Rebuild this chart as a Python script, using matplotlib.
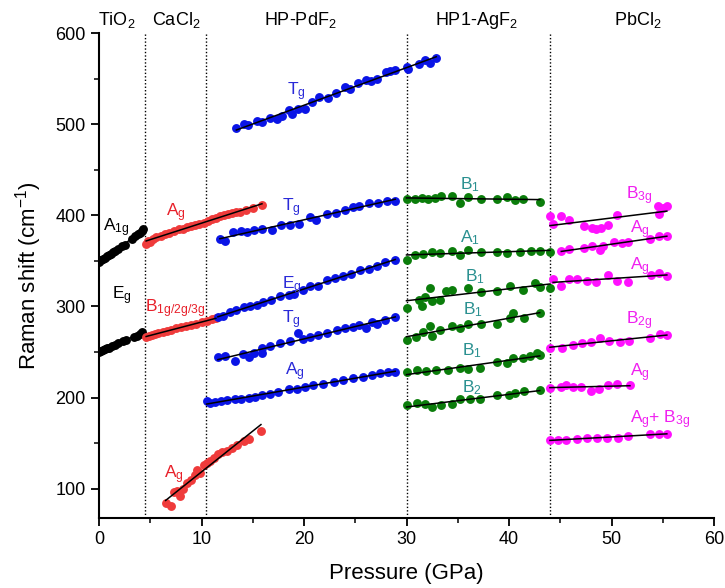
import numpy as np
import matplotlib
matplotlib.use("Agg")
import matplotlib.pyplot as plt
import matplotlib.transforms as mtransforms

plt.rcParams["font.family"] = ["Liberation Sans", "DejaVu Sans"]
plt.rcParams["mathtext.fontset"] = "custom"
plt.rcParams["mathtext.rm"] = "Liberation Sans"
plt.rcParams["mathtext.it"] = "Liberation Sans"
plt.rcParams["mathtext.bf"] = "Liberation Sans:bold"

# ---------------- data: pressure (GPa) and Raman shift (cm^-1) ----------------
# TiO2 (rutile)
tio2_a1g_p = [0.0, 0.2, 0.4, 0.6, 0.8, 1.0, 1.2, 1.4, 1.6, 1.9, 2.2, 2.5, 3.2, 3.5, 3.8, 4.0, 4.2, 4.3]
tio2_a1g_w = [349, 351, 352, 353, 355, 357, 358, 360, 361, 363, 366, 368, 374, 377, 379, 381, 383, 385]
tio2_eg_p = [0.0, 0.2, 0.4, 0.6, 0.8, 1.0, 1.3, 1.6, 1.9, 2.3, 2.6, 3.4, 3.7, 4.0, 4.2]
tio2_eg_w = [250, 251, 252, 253, 254, 255, 257, 258, 260, 262, 263, 267, 268, 270, 272]

# CaCl2-type
cacl2_ag_hi_p = [4.6, 4.8, 5.0, 5.3, 5.6, 6.0, 6.4, 6.8, 7.3, 7.8, 8.2, 8.6, 9.0, 9.4, 9.8, 10.2,
                 10.6, 11.0, 11.4, 11.8, 12.2, 12.6, 13.0, 13.4, 13.8, 14.3, 15.0, 15.9]
cacl2_ag_hi_w = [369, 372, 371, 374, 376, 377, 379, 381, 383, 385, 385, 387, 388, 389, 391, 392,
                 394, 396, 397, 399, 400, 401, 403, 404, 404, 406, 408, 411]
cacl2_b_p = [4.6, 4.9, 5.2, 5.5, 5.8, 6.2, 6.6, 7.0, 7.5, 8.0, 8.5, 9.0, 9.5, 10.0, 10.5, 11.0, 11.4]
cacl2_b_w = [266, 268, 269, 270, 271, 272, 273, 274, 276, 277, 279, 280, 281, 283, 284, 286, 287]
cacl2_ag_lo_p = [6.5, 7.0, 7.3, 7.6, 7.9, 8.2, 8.6, 9.0, 9.4, 9.6, 9.9, 10.2, 10.5, 10.8,
                 11.2, 11.6, 12.0, 12.5, 13.0, 13.5, 14.1, 14.6, 15.8]
cacl2_ag_lo_w = [85, 81, 96, 98, 92, 100, 106, 110, 115, 121, 117, 126, 128, 131,
                 134, 138, 140, 142, 145, 148, 153, 155, 163]

# HP-PdF2-type
pdf2_tg1_p = [13.4, 14.1, 14.5, 15.4, 15.9, 16.7, 17.4, 17.9, 18.5, 18.8, 19.4, 20.1, 20.8, 21.5,
              22.3, 23.1, 24.0, 24.5, 25.3, 26.0, 26.5, 27.1, 28.0, 28.4, 28.9, 30.0, 30.1, 31.2,
              31.8, 32.3, 32.9]
pdf2_tg1_w = [496, 500, 499, 504, 502, 507, 506, 509, 515, 511, 517, 517, 524, 530,
              529, 534, 541, 539, 545, 548, 547, 549, 557, 558, 559, 563, 561, 566,
              570, 567, 573]
pdf2_tg2_p = [11.8, 12.3, 13.1, 13.9, 14.4, 15.1, 15.9, 16.9, 17.8, 18.6, 19.5, 20.6, 21.2, 22.2,
              23.1, 24.0, 24.8, 25.4, 26.3, 27.2, 28.1, 28.9]
pdf2_tg2_w = [374, 372, 382, 383, 382, 384, 385, 384, 389, 389, 390, 398, 395, 402,
              403, 406, 409, 410, 413, 413, 416, 416]
pdf2_eg_p = [11.6, 12.1, 12.8, 13.4, 14.1, 14.7, 15.4, 16.0, 16.8, 17.7, 18.5, 19.0, 19.9, 20.6,
             21.4, 22.2, 23.0, 23.8, 24.6, 25.5, 26.3, 27.1, 27.9, 28.9]
pdf2_eg_w = [288, 290, 294, 296, 299, 300, 302, 305, 307, 311, 313, 314, 318, 322,
             323, 329, 331, 334, 336, 340, 341, 344, 349, 351]
pdf2_tg3_p = [11.6, 12.3, 13.3, 14.0, 14.6, 15.1, 15.9, 15.9, 16.7, 17.7, 18.6, 19.4, 19.9, 20.6,
              21.4, 22.2, 23.2, 24.0, 24.8, 25.4, 26.0, 26.6, 27.1, 27.9, 28.9]
pdf2_tg3_w = [245, 246, 240, 248, 245, 249, 249, 255, 257, 260, 262, 271, 264, 267,
              269, 271, 274, 276, 278, 280, 276, 283, 281, 285, 289]
pdf2_ag_p = [10.5, 10.8, 11.3, 11.9, 12.5, 13.3, 13.9, 14.6, 15.2, 15.9, 16.7, 17.5, 18.5, 19.3,
             20.1, 20.9, 21.9, 22.9, 23.8, 24.8, 25.8, 26.6, 27.4, 28.2, 28.9]
pdf2_ag_w = [196, 194, 195, 196, 197, 198, 198, 200, 201, 203, 204, 206, 209, 210,
             212, 214, 215, 217, 219, 222, 223, 225, 227, 228, 228]

# HP1-AgF2-type
agf2_b1a_p = [30.0, 30.8, 31.5, 32.1, 32.8, 33.4, 34.4, 35.2, 36.0, 37.3, 38.8, 39.8, 40.6, 41.4, 43.0]
agf2_b1a_w = [418, 418, 419, 418, 419, 421, 421, 414, 420, 418, 418, 420, 417, 418, 415]
agf2_a1_p = [30.0, 30.8, 31.6, 32.5, 33.3, 34.4, 35.2, 36.0, 37.3, 38.8, 39.8, 41.1, 42.1, 43.0, 44.0]
agf2_a1_w = [351, 356, 358, 360, 359, 361, 356, 362, 360, 360, 359, 360, 361, 361, 360]
agf2_b1b_p = [30.0, 31.2, 31.5, 31.8, 32.3, 32.5, 33.3, 33.9, 34.4, 36.0, 37.3, 38.8, 40.1, 41.4,
              42.5, 43.0, 44.0]
agf2_b1b_w = [298, 307, 301, 310, 320, 306, 307, 317, 318, 320, 316, 317, 322, 318,
              326, 321, 320]
agf2_b1c_p = [30.0, 30.9, 31.6, 32.3, 32.5, 33.3, 34.4, 35.2, 36.0, 37.3, 38.8, 40.1, 40.4, 41.5, 43.0]
agf2_b1c_w = [263, 266, 272, 279, 268, 274, 279, 276, 281, 281, 281, 287, 293, 287, 293]
agf2_b1d_p = [30.0, 31.0, 31.9, 32.9, 34.0, 35.2, 36.0, 37.2, 38.8, 39.8, 40.4, 41.4, 42.0, 42.7, 43.0]
agf2_b1d_w = [228, 230, 229, 230, 230, 232, 231, 232, 239, 238, 243, 243, 246, 249, 247]
agf2_b2_p = [30.0, 31.0, 31.8, 32.5, 33.4, 34.4, 35.2, 36.2, 37.2, 38.8, 40.0, 40.6, 41.5, 43.0]
agf2_b2_w = [192, 194, 193, 190, 192, 193, 198, 199, 198, 203, 203, 205, 207, 208]

# PbCl2-type
pbcl2_b3g_p = [44.0, 44.3, 45.1, 45.9, 47.3, 48.1, 48.5, 49.0, 49.7, 50.5, 54.5, 54.6, 55.0, 55.4]
pbcl2_b3g_w = [399, 391, 399, 395, 388, 386, 385, 386, 389, 400, 410, 402, 408, 410]
pbcl2_ag1_p = [45.1, 45.9, 47.3, 48.1, 48.9, 49.2, 50.2, 51.0, 51.6, 53.8, 54.6, 55.4]
pbcl2_ag1_w = [361, 363, 364, 366, 362, 366, 371, 370, 371, 374, 377, 377]
pbcl2_ag2_p = [44.3, 45.1, 45.9, 46.6, 47.6, 48.5, 49.7, 50.5, 51.6, 53.9, 54.6, 55.4]
pbcl2_ag2_w = [330, 322, 330, 330, 328, 327, 335, 328, 327, 335, 337, 334]
pbcl2_b2g_p = [44.0, 45.2, 46.2, 47.1, 48.0, 48.9, 49.8, 50.8, 51.7, 53.8, 54.7, 55.4]
pbcl2_b2g_w = [255, 255, 258, 260, 261, 265, 262, 261, 262, 265, 270, 269]
pbcl2_ag3_p = [44.0, 45.1, 45.6, 46.2, 47.0, 48.0, 48.8, 49.7, 50.5, 51.8]
pbcl2_ag3_w = [211, 212, 214, 212, 212, 207, 209, 214, 215, 214]
pbcl2_agb_p = [44.0, 44.8, 45.6, 46.6, 47.6, 48.6, 49.6, 50.6, 51.6, 53.8, 54.6, 55.4]
pbcl2_agb_w = [153.5, 154, 154, 155, 155.3, 156, 156, 156, 158, 160, 160, 160.5]

# phase boundaries (GPa) and phase names
boundaries = [4.5, 10.4, 30.0, 44.0]
phase_names = ["TiO$_2$", "CaCl$_2$", "HP-PdF$_2$", "HP1-AgF$_2$", "PbCl$_2$"]
phase_centres = [1.7, 7.5, 19.6, 36.8, 52.6]

BLACK, RED, BLUE, GREEN, MAGENTA = "#000000", "#ef3b3b", "#0a14e6", "#0b7d0b", "#ff10ff"
LBL = {BLACK: "#000000", RED: "#e8202a", BLUE: "#2a2ad8", GREEN: "#2a9090", MAGENTA: "#f020f0"}

# (pressures, shifts, colour, label, label x, label y)
series = [
    (tio2_a1g_p, tio2_a1g_w, BLACK, "A$_{1g}$", 1.7, 386),
    (tio2_eg_p, tio2_eg_w, BLACK, "E$_g$", 2.2, 312),
    (cacl2_ag_hi_p, cacl2_ag_hi_w, RED, "A$_g$", 7.5, 403),
    (cacl2_b_p, cacl2_b_w, RED, "B$_{1g/2g/3g}$", 7.4, 298),
    (cacl2_ag_lo_p, cacl2_ag_lo_w, RED, "A$_g$", 7.3, 115),
    (pdf2_tg1_p, pdf2_tg1_w, BLUE, "T$_g$", 19.3, 536),
    (pdf2_tg2_p, pdf2_tg2_w, BLUE, "T$_g$", 18.8, 408),
    (pdf2_eg_p, pdf2_eg_w, BLUE, "E$_g$", 18.8, 323),
    (pdf2_tg3_p, pdf2_tg3_w, BLUE, "T$_g$", 18.8, 285),
    (pdf2_ag_p, pdf2_ag_w, BLUE, "A$_g$", 19.1, 229),
    (agf2_b1a_p, agf2_b1a_w, GREEN, "B$_1$", 36.2, 434),
    (agf2_a1_p, agf2_a1_w, GREEN, "A$_1$", 36.2, 375),
    (agf2_b1b_p, agf2_b1b_w, GREEN, "B$_1$", 36.7, 333),
    (agf2_b1c_p, agf2_b1c_w, GREEN, "B$_1$", 36.5, 297),
    (agf2_b1d_p, agf2_b1d_w, GREEN, "B$_1$", 36.4, 252),
    (agf2_b2_p, agf2_b2_w, GREEN, "B$_2$", 36.4, 211),
    (pbcl2_b3g_p, pbcl2_b3g_w, MAGENTA, "B$_{3g}$", 52.7, 421),
    (pbcl2_ag1_p, pbcl2_ag1_w, MAGENTA, "A$_g$", 52.8, 384),
    (pbcl2_ag2_p, pbcl2_ag2_w, MAGENTA, "A$_g$", 52.8, 344),
    (pbcl2_b2g_p, pbcl2_b2g_w, MAGENTA, "B$_{2g}$", 52.7, 284),
    (pbcl2_ag3_p, pbcl2_ag3_w, MAGENTA, "A$_g$", 52.8, 227),
    (pbcl2_agb_p, pbcl2_agb_w, MAGENTA, "A$_g$+ B$_{3g}$", 54.8, 176),
]

fig = plt.figure(figsize=(7.25, 5.88), dpi=100)
ax = fig.add_axes([99 / 725, 70 / 588, 615 / 725, 485 / 588])

for b in boundaries:
    ax.axvline(b, color="black", linestyle=(0, (1, 1.5)), linewidth=1.0, zorder=1)

for p, w, col, lab, lx, ly in series:
    p = np.asarray(p, float)
    w = np.asarray(w, float)
    ax.plot(p, w, "o", color=col, markersize=6.4, markeredgewidth=0, zorder=2)
    k, c = np.polyfit(p, w, 1)
    xs = np.array([p.min(), p.max()])
    ax.plot(xs, k * xs + c, color="black", linewidth=1.1, zorder=3)
    ax.text(lx, ly, lab, color=LBL[col], fontsize=12.5, ha="center", va="center", zorder=4)

trans = mtransforms.blended_transform_factory(ax.transData, ax.transAxes)
for name, xc in zip(phase_names, phase_centres):
    ax.text(xc, 1.026, name, transform=trans, ha="center", va="center", fontsize=13)

ax.set_xlim(0, 60)
ax.set_ylim(68, 600)
ax.set_xticks(np.arange(0, 61, 10))
ax.set_xticks(np.arange(0, 61, 5), minor=True)
ax.set_yticks(np.arange(100, 601, 100))
ax.set_yticks(np.arange(100, 601, 50), minor=True)
ax.spines["top"].set_visible(False)
ax.spines["right"].set_visible(False)
for s in ("left", "bottom"):
    ax.spines[s].set_linewidth(1.5)
ax.tick_params(which="major", direction="out", length=6, width=1.3, labelsize=13)
ax.tick_params(which="minor", direction="out", length=3.5, width=1.1)

ax.set_xlabel("Pressure (GPa)", fontsize=16, labelpad=11)
ax.set_ylabel("Raman shift (cm$^{-1}$)", fontsize=16, labelpad=8)

fig.savefig("out.png", dpi=100)
